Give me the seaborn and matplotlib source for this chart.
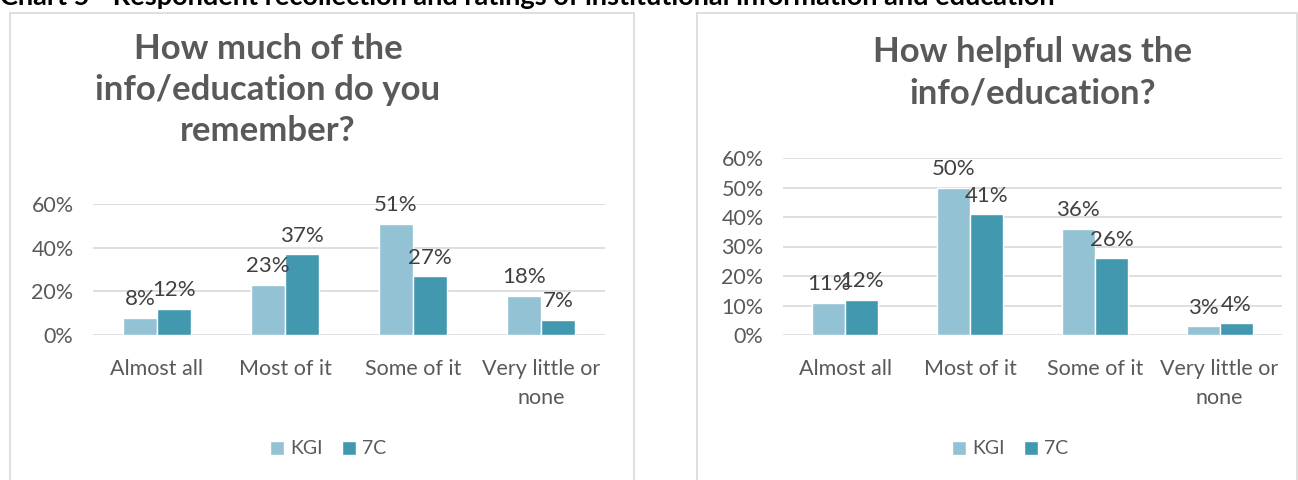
import pandas as pd
import matplotlib.pyplot as plt
import seaborn as sns
from matplotlib.patches import Rectangle

# data
categories = ['Almost all', 'Most of it', 'Some of it', 'Very little or\nnone']
series = ['KGI', '7C']
remember_kgi = [0.08, 0.23, 0.51, 0.18]
remember_7c = [0.12, 0.37, 0.27, 0.07]
helpful_kgi = [0.11, 0.50, 0.36, 0.03]
helpful_7c = [0.12, 0.41, 0.26, 0.04]

colors = ['#92C2D3', '#4298AF']
grey = '#595959'

sns.set_theme(style='white')
plt.rcParams['font.family'] = ['Lato', 'DejaVu Sans']


def make_df(kgi, c7):
    rows = []
    for cat, a, b in zip(categories, kgi, c7):
        rows.append({'cat': cat, 'serie': 'KGI', 'val': a})
        rows.append({'cat': cat, 'serie': '7C', 'val': b})
    return pd.DataFrame(rows)


def draw(ax, df, ticks, title, title_xy, legend_xy):
    sns.barplot(data=df, x='cat', y='val', hue='serie', hue_order=series,
                palette=colors, width=0.53, saturation=1, ax=ax, legend=True)
    ax.set_xlim(-0.5, 3.5)
    ax.set_ylim(0, ticks[-1])
    ax.set_yticks(ticks)
    ax.set_yticklabels([f'{int(round(t * 100))}%' for t in ticks])
    ax.set_xlabel('')
    ax.set_ylabel('')
    for s in ax.spines.values():
        s.set_visible(False)
    ax.grid(axis='y', color='#d9d9d9', lw=1.2)
    ax.set_axisbelow(True)
    ax.tick_params(axis='both', length=0, labelsize=15.5, colors=grey, pad=14)
    ax.tick_params(axis='x', pad=17)
    for lbl in ax.get_xticklabels():
        lbl.set_linespacing(1.6)
    for cont in ax.containers:
        ax.bar_label(cont, labels=[f'{round(v * 100):.0f}%' for v in cont.datavalues],
                     padding=6, fontsize=16, color='#404040')
    handles, labels = ax.get_legend_handles_labels()
    ax.legend(handles, labels, loc='center', bbox_to_anchor=legend_xy,
              bbox_transform=ax.figure.transFigure, ncol=2, frameon=False,
              handlelength=0.75, handleheight=0.75, handletextpad=0.3,
              columnspacing=1.0, fontsize=14, labelcolor=grey)
    ax.figure.text(title_xy[0], title_xy[1], title, ha='center', va='center',
                   fontsize=25, fontweight='bold', color=grey, linespacing=1.35)


fig = plt.figure(figsize=(12.98, 4.8), dpi=100)

# panel frames
fig.patches.append(Rectangle((10 / 1298, -0.1), 624 / 1298, 1.1 - 13 / 480,
                             transform=fig.transFigure, fill=False,
                             edgecolor='#d9d9d9', lw=1.2))
fig.patches.append(Rectangle((697 / 1298, -0.1), 600 / 1298, 1.1 - 13 / 480,
                             transform=fig.transFigure, fill=False,
                             edgecolor='#d9d9d9', lw=1.2))

# chart heading, cut off by the top edge as in the source
fig.text(0.0, 1 - 5 / 480, 'Chart 5 - Respondent recollection and ratings of institutional information and education',
         ha='left', va='baseline', fontsize=19.5, fontweight='bold', color='black')

ax1 = fig.add_axes([93 / 1298, 145 / 480, 512 / 1298, 131 / 480])
draw(ax1, make_df(remember_kgi, remember_7c), [0, 0.2, 0.4, 0.6],
     'How much of the\ninfo/education do you\nremember?',
     (268 / 1298, 1 - 90 / 480), (328 / 1298, 1 - 449 / 480))

ax2 = fig.add_axes([783 / 1298, 145 / 480, 499 / 1298, 177 / 480])
draw(ax2, make_df(helpful_kgi, helpful_7c), [0, 0.1, 0.2, 0.3, 0.4, 0.5, 0.6],
     'How helpful was the\ninfo/education?',
     (1033 / 1298, 1 - 73 / 480), (1010 / 1298, 1 - 449 / 480))

fig.savefig('out.png', dpi=100)
